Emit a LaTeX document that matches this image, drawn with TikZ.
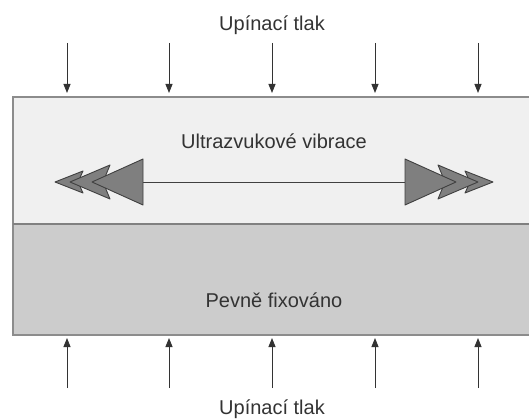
\documentclass[tikz,border=0pt]{standalone}
\usepackage{fontspec}
\setmainfont{Liberation Sans}
\usetikzlibrary{arrows.meta}
\definecolor{topfill}{HTML}{F0F0F0}
\definecolor{botfill}{HTML}{CCCCCC}
\definecolor{edge}{HTML}{8C8C8C}
\definecolor{headfill}{HTML}{7F7F7F}
\definecolor{txt}{HTML}{333333}
\begin{document}
\begin{tikzpicture}[x=1pt,y=-1pt,
  lbl/.style={text=txt,font=\fontsize{20}{24}\selectfont,inner sep=0pt},
  press/.style={draw=black!80,line width=0.9pt,-{Triangle[length=9pt,width=7pt]}},
  head/.style={fill=headfill,draw=black!75,line width=0.9pt,line join=round},
  slab/.style={draw=edge,line width=1.5pt}]
\useasboundingbox (0,0) rectangle (529,419);
% slabs
\fill[topfill] (13,97) rectangle (535,224);
\fill[botfill] (13,224) rectangle (535,335);
\draw[slab] (535,97) -- (13,97) -- (13,335) -- (535,335);
\draw[draw=black!50,line width=1.5pt] (13,224) -- (535,224);
% labels
\node[lbl] (ttop) at (272,25) {Upínací tlak};
\node[lbl] (tbot) at (272,409) {Upínací tlak};
\node[lbl] (tvib) at (274,141) {Ultrazvukové vibrace};
\node[lbl] (tfix) at (274,300) {Pevně fixováno};
% pressure arrows
\foreach \i/\x in {1/67,2/169,3/272,4/375,5/478}{
  \coordinate (a\i) at (\x,43); \coordinate (b\i) at (\x,93);
  \coordinate (c\i) at (\x,388); \coordinate (d\i) at (\x,338);
  \draw[press] (a\i) -- (b\i);
  \draw[press] (c\i) -- (d\i);
}
% vibration arrow
\coordinate (L) at (143,182); \coordinate (R) at (405,182);
\draw[draw=black!75,line width=0.9pt] (L) -- (R);
\foreach \s in {1,-1}{
\begin{scope}[shift={(274,182)},xscale=\s]
  \draw[head] (-219,0) -- (-191,-11) -- (-196,0) -- (-191,11) -- cycle;
  \draw[head] (-204,0) -- (-164,-17) -- (-171,0) -- (-164,17) -- cycle;
  \draw[head] (-182,0) -- (-131,-23) -- (-131,23) -- cycle;
\end{scope}}
\end{tikzpicture}
\end{document}
